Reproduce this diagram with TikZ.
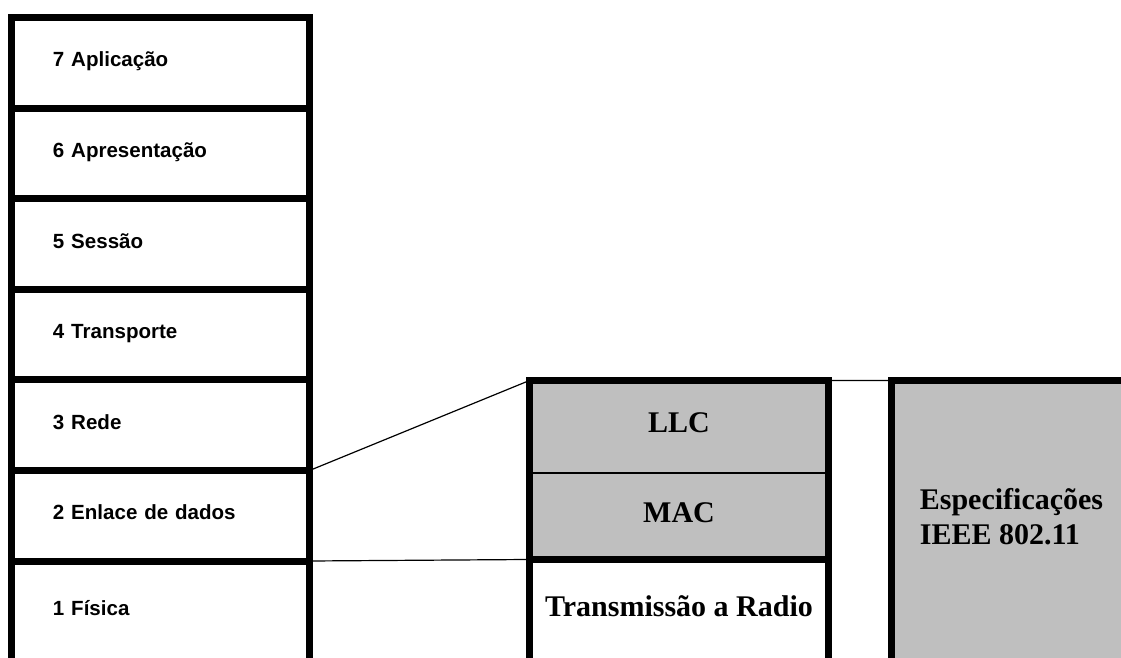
\documentclass[tikz,border=0pt]{standalone}
\usepackage{fontspec}
\setmainfont{Liberation Serif}
\newfontfamily\arialfont{Liberation Sans}
\usepackage{xcolor}
\usepackage{tikz}

\definecolor{cinza}{RGB}{191,191,191}

\tikzset{
  borda/.style={draw, line width=5.25pt},
  camada/.style={borda, outer sep=0pt, minimum width=223.5pt, minimum height=67.95pt,
    text width=161.3pt, inner xsep=31.1pt, inner ysep=0pt, align=left,
    font=\arialfont\bfseries\fontsize{15.4}{18}\selectfont, text height=10.8pt, text depth=4.6pt},
  nivel/.style={outer sep=0pt, inner sep=0pt, minimum width=224.25pt,
    font=\bfseries\fontsize{22.5}{26.5}\selectfont, text height=15.75pt, text depth=6.75pt},
  ligacao/.style={draw, line width=0.9pt},
}

\begin{document}
\begin{tikzpicture}[x=0.75pt, y=-0.75pt]
\clip (0,0) rectangle (1121,657);

% modelo OSI
\node[camada] (c7) at (160.5,62.8) {7 Aplicação};
\node[camada] (c6) at (160.5,153.4) {6 Apresentação};
\node[camada] (c5) at (160.5,244.0) {5 Sessão};
\node[camada] (c4) at (160.5,334.6) {4 Transporte};
\node[camada] (c3) at (160.5,425.2) {3 Rede};
\node[camada] (c2) at (160.5,515.8) {2 Enlace de dados};
\node[camada, minimum height=75.75pt] (c1) at (160.5,611.5) {1 Física};

% IEEE 802.11
\node[nivel, fill=cinza, draw, line width=1.2pt, minimum height=69.4pt] (llc) at (679,426.75) {LLC};
\node[nivel, fill=cinza, draw, line width=1.2pt, minimum height=64.9pt] (mac) at (679,516.25) {MAC};
\draw[borda] (llc.north west) rectangle (mac.south east);
\node[nivel, borda, minimum height=76.9pt] (radio) at (679,610.75) {Transmissão a Radio};

% especificações
\node[borda, fill=cinza, outer sep=0pt, minimum width=180.75pt, minimum height=224.6pt,
  align=left, text depth=21pt, font=\bfseries\fontsize{22.5}{26.5}\selectfont] (spec) at (1011.5,530.25)
  {Especificações\\IEEE 802.11};

% ========== ligações ==========
\draw[ligacao] (c2.north east) -- (llc.north west);
\draw[ligacao] (c1.north east) -- (radio.north west);
\draw[ligacao] (llc.north east) -- (spec.north west);
\end{tikzpicture}
\end{document}
